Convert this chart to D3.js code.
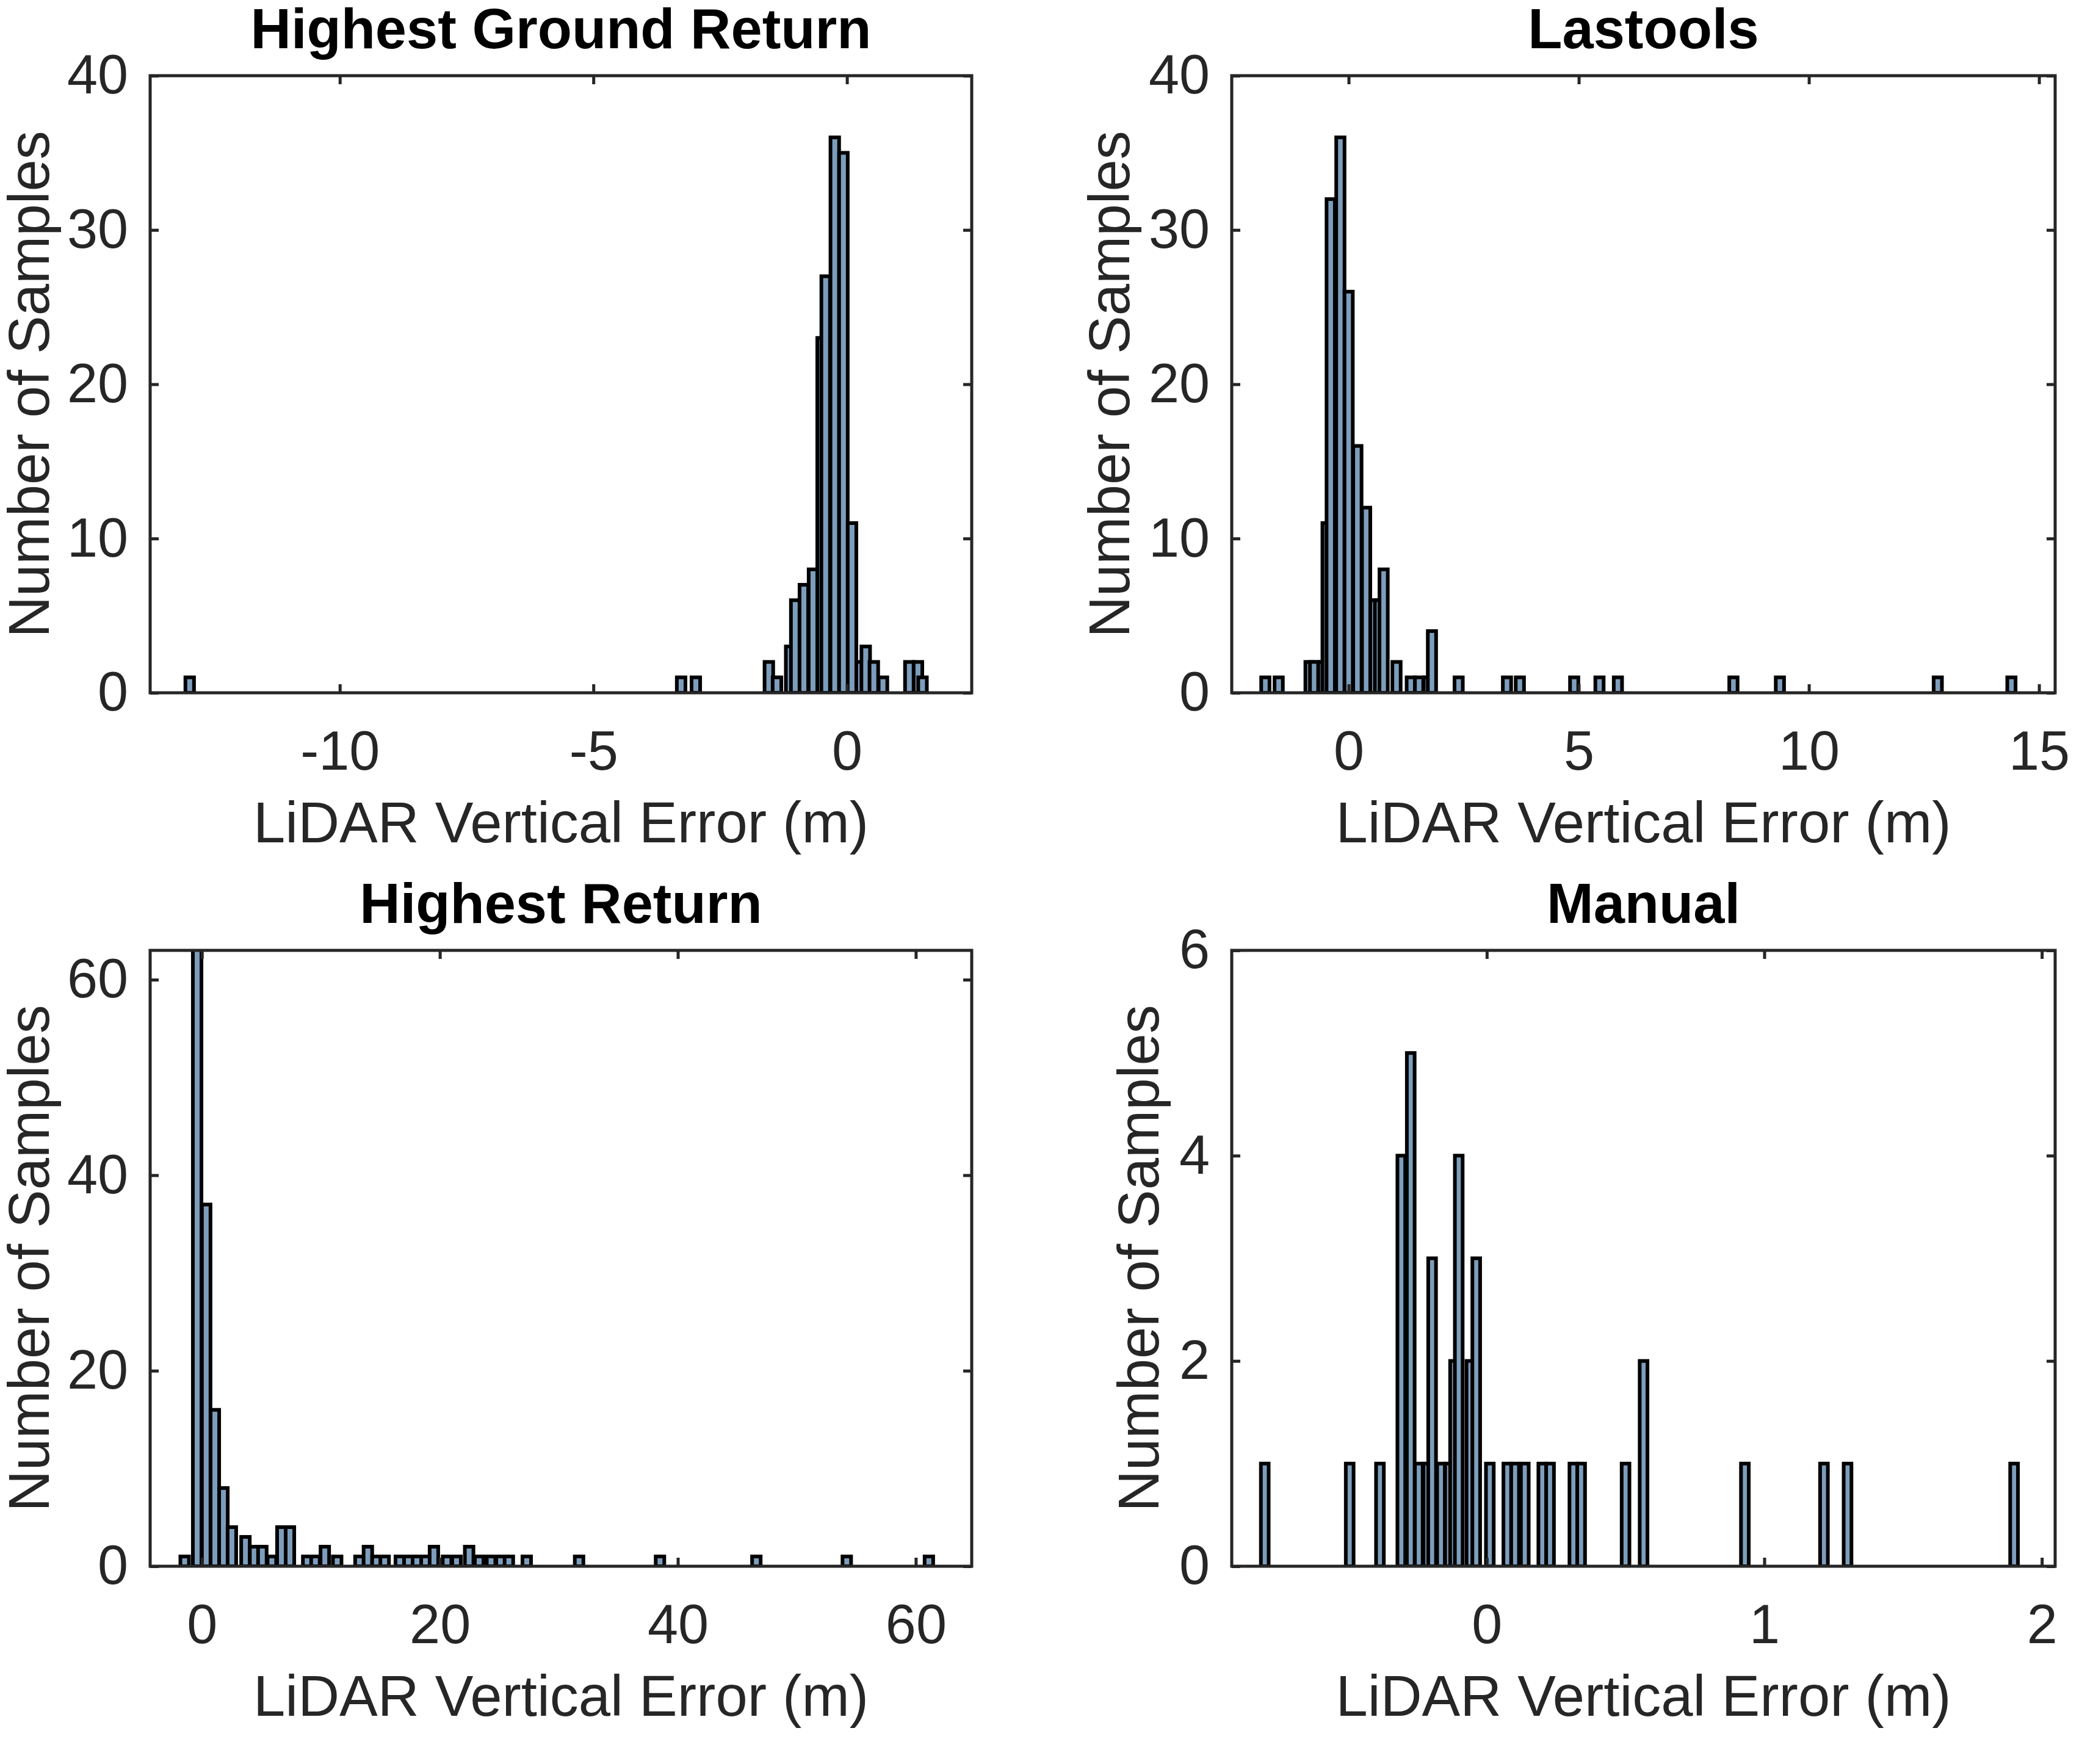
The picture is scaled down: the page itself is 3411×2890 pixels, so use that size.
<!DOCTYPE html>
<html><head><meta charset="utf-8">
<script src="https://cdn.jsdelivr.net/npm/d3@7"></script>
<style>body{margin:0;background:#fff}</style>
</head><body>
<svg id="fig" width="3411" height="2890"></svg>
<script>
// bin centres (m) and counts
const groundCenters = [-12.96,-3.27,-2.98,-1.54,-1.38,-1.12,-1.02,-0.85,-0.67,-0.50,-0.42,-0.24,-0.07,0.10,0.27,0.37,0.53,0.71,1.23,1.40,1.49];
const groundCounts  = [1,1,1,2,1,3,6,7,8,23,27,36,35,11,2,3,2,1,2,2,1];

const lasCenters = [-1.81,-1.52,-0.85,-0.75,-0.57,-0.48,-0.39,-0.18,0.00,0.19,0.38,0.56,0.66,0.76,1.04,1.35,1.53,1.72,1.81,2.39,3.44,3.72,4.9,5.45,5.85,8.36,9.37,12.8,14.4];
const lasCounts  = [1,1,2,2,2,11,32,36,26,16,12,6,6,8,2,1,1,1,4,1,1,1,1,1,1,1,1,1,1];

const highCenters = [-1.45,-0.4,0.36,1.09,1.81,2.52,3.66,4.39,5.08,5.88,6.68,7.40,8.85,9.54,10.33,11.37,13.24,13.95,14.67,15.36,16.63,17.35,18.07,18.79,19.5,20.6,21.4,22.46,23.3,24.3,25.1,25.8,27.3,31.7,38.5,46.6,54.2,61.1];
const highCounts  = [1,70,37,16,8,4,3,2,2,1,4,4,1,1,2,1,1,2,1,1,1,1,1,1,2,1,1,2,1,1,1,1,1,1,1,1,1,1];

const manualCenters = [-0.80,-0.494,-0.385,-0.308,-0.274,-0.245,-0.214,-0.197,-0.165,-0.136,-0.118,-0.101,-0.059,-0.038,0.011,0.074,0.102,0.137,0.20,0.228,0.312,0.34,0.50,0.565,0.93,1.215,1.30,1.90];
const manualCounts  = [1,1,1,4,5,1,1,3,1,1,2,4,2,3,1,1,1,1,1,1,1,1,1,2,1,1,1,1];

const titles = ["Highest Ground Return","Lastools","Highest Return","Manual"];
const xTicks = [[-10,-5,0],[0,5,10,15],[0,20,40,60],[0,1,2]];
const yTicks = [[0,10,20,30,40],[0,10,20,30,40],[0,20,40,60],[0,2,4,6]];

const panels = [
  {c:groundCenters,n:groundCounts,w:0.17,xd:[-13.74,2.46],yd:[0,40],box:[246,124,1592,1135],yl:198},
  {c:lasCenters,n:lasCounts,w:0.18,xd:[-2.54,15.35],yd:[0,40],box:[2018,124,3367,1135],yl:200},
  {c:highCenters,n:highCounts,w:0.72,xd:[-4.35,64.7],yd:[0,63],box:[246,1557,1592,2566],yl:198},
  {c:manualCenters,n:manualCounts,w:0.028,xd:[-0.919,2.048],yd:[0,6],box:[2018,1557,3367,2566],yl:152}
];

const svg = d3.select("#fig");
const font = "Liberation Sans, Arial, sans-serif";
const fmt = d => String(d); // plain hyphen for negatives, like the original

panels.forEach((p,i)=>{
  const [x0,y0,x1,y1] = p.box;
  const x = d3.scaleLinear().domain(p.xd).range([x0,x1]);
  const y = d3.scaleLinear().domain(p.yd).range([y1,y0]);
  const g = svg.append("g");
  const clipId = "clip"+i;
  g.append("clipPath").attr("id",clipId).append("rect")
    .attr("x",x0).attr("y",y0).attr("width",x1-x0).attr("height",y1-y0);

  g.append("g").attr("clip-path",`url(#${clipId})`)
    .selectAll("rect").data(p.c).join("rect")
    .attr("x",d=>x(d-p.w/2))
    .attr("width",d=>x(d+p.w/2)-x(d-p.w/2))
    .attr("y",(d,j)=>y(p.n[j]))
    .attr("height",(d,j)=>y(0)-y(p.n[j]))
    .attr("fill","#7d9dbc").attr("stroke","#000").attr("stroke-width",6);

  const tl = 14;
  const axB = g.append("g").attr("transform",`translate(0,${y1})`)
    .call(d3.axisBottom(x).tickValues(xTicks[i]).tickSize(-tl).tickPadding(62).tickFormat(fmt));
  const axT = g.append("g").attr("transform",`translate(0,${y0})`)
    .call(d3.axisTop(x).tickValues(xTicks[i]).tickSize(-tl).tickFormat(""));
  const axL = g.append("g").attr("transform",`translate(${x0},0)`)
    .call(d3.axisLeft(y).tickValues(yTicks[i]).tickSize(-tl).tickPadding(36).tickFormat(fmt));
  const axR = g.append("g").attr("transform",`translate(${x1},0)`)
    .call(d3.axisRight(y).tickValues(yTicks[i]).tickSize(-tl).tickFormat(""));
  [axB,axT,axL,axR].forEach(a=>{
    a.select(".domain").remove();
    a.selectAll("line").attr("stroke","#262626").attr("stroke-width",5);
    a.selectAll("text").attr("font-family",font).attr("font-size",90).attr("fill","#262626");
  });
  axB.selectAll("text").attr("dy","0.71em");
  g.append("rect").attr("x",x0).attr("y",y0).attr("width",x1-x0).attr("height",y1-y0)
    .attr("fill","none").attr("stroke","#262626").attr("stroke-width",5);

  g.append("text").attr("x",(x0+x1)/2).attr("y",y0-45).attr("text-anchor","middle")
    .attr("font-family",font).attr("font-weight","bold").attr("font-size",92).attr("fill","#000")
    .text(titles[i]);
  g.append("text").attr("x",(x0+x1)/2).attr("y",y1+245).attr("text-anchor","middle")
    .attr("font-family",font).attr("font-size",94).attr("fill","#262626")
    .text("LiDAR Vertical Error (m)");
  g.append("text").attr("transform",`translate(${x0-p.yl+32},${(y0+y1)/2}) rotate(-90)`)
    .attr("text-anchor","middle").attr("font-family",font).attr("font-size",94).attr("fill","#262626")
    .text("Number of Samples");
});
</script>
</body></html>
